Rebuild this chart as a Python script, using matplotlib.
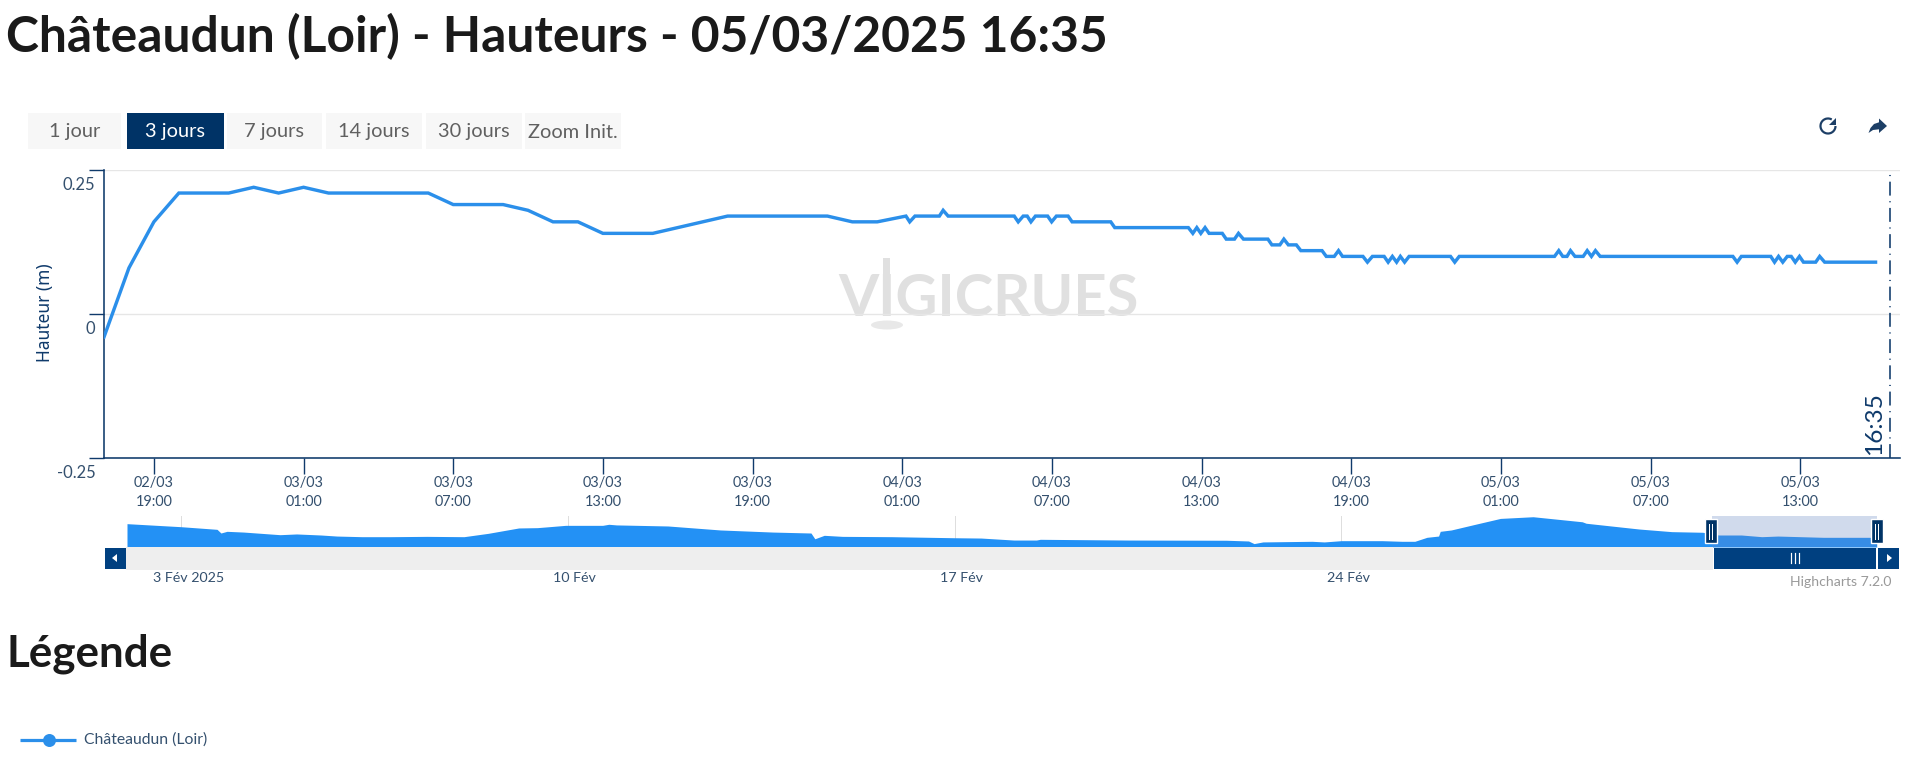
import matplotlib
matplotlib.use("Agg")
import matplotlib.pyplot as plt
from matplotlib.patches import Rectangle, Polygon, Ellipse, Arc
from matplotlib.lines import Line2D
from matplotlib.transforms import ScaledTranslation

# ---------- data ----------
hours_since_start = [0, 1, 2, 3, 5, 6, 7, 8, 9, 13, 14, 16, 17, 18, 19, 20, 22, 25, 29, 30, 31, 32.15, 32.30, 32.51,
    33.49, 33.64, 33.84, 36.49, 36.65, 36.85, 37.01, 37.16, 37.34, 37.83, 37.99, 38.18, 38.65, 38.81, 40.36, 40.52,
    43.47, 43.65, 43.81, 43.97, 44.14, 44.30, 44.83, 44.99, 45.32, 45.48, 45.68, 46.66, 46.82, 47.14, 47.30, 47.48,
    47.80, 47.98, 48.83, 49.0, 49.32, 49.49, 49.65, 50.47, 50.65, 50.85, 51.32, 51.48, 51.65, 51.82, 51.97, 52.14,
    52.32, 53.98, 54.15, 54.33, 58.15, 58.32, 58.48, 58.65, 58.79, 58.97, 59.3, 59.46, 59.63, 59.79, 59.98, 65.3,
    65.47, 65.64, 66.82, 66.97, 67.13, 67.30, 67.48, 67.64, 67.80, 67.97, 68.13, 68.62, 68.78, 68.98, 71.02]
heights = [-.04, .08, .16, .21, .21, .22, .21, .22, .21, .21, .19, .19, .18, .16, .16, .14, .14, .17, .17, .16, .16, .17, .16, .17,
    .17, .18, .17, .17, .16, .17, .17, .16, .17, .17, .16, .17, .17, .16, .16, .15,
    .15, .14, .15, .14, .15, .14, .14, .13, .13, .14, .13, .13, .12, .12, .13, .12,
    .12, .11, .11, .10, .10, .11, .10, .10, .09, .10, .10, .09, .10, .09, .10, .09,
    .10, .10, .09, .10, .10, .11, .10, .10, .11, .10, .10, .11, .10, .11, .10, .10,
    .09, .10, .10, .09, .10, .09, .10, .10, .09, .10, .09, .09, .10, .09, .09]
now_hour = 71.58
x_tick_hours = [2, 8, 14, 20, 26, 32, 38, 44, 50, 56, 62, 68]
x_tick_labels = ["02/03\n19:00", "03/03\n01:00", "03/03\n07:00", "03/03\n13:00", "03/03\n19:00", "04/03\n01:00",
                 "04/03\n07:00", "04/03\n13:00", "04/03\n19:00", "05/03\n01:00", "05/03\n07:00", "05/03\n13:00"]
y_ticks = [-0.25, 0, 0.25]
y_tick_labels = ["-0.25", "0", "0.25"]

nav_days = [-.98, 0, .65, .72, .83, 1.13, 1.79, 2.09, 2.53, 2.82, 3.27, 3.79, 4.45, 5.12, 5.56, 6.11, 6.45, 6.96, 7.63,
    7.74, 7.88, 8.81, 9.76, 10.71, 11.40, 11.47, 11.64, 11.97, 12.86, 14.0, 14.48, 15.07, 15.48, 15.55, 17.14, 18.92,
    19.32, 19.42, 19.58, 20.47, 20.69, 21.0, 21.74, 22.1, 22.33, 22.55, 22.76, 22.79, 22.99, 23.44, 23.88, 24.47,
    25.36, 25.43, 26.39, 26.98, 27.54, 27.83, 28.24, 28.61, 28.9, 29.72, 30.53, 30.69]
nav_values = [.75, .605, .48, .305, .385, .35, .225, .26, .21, .16, .13, .13, .145, .13, .29, .545, .56, .67, .67,
    .72, .69, .64, .45, .35, .305, .03, .195, .145, .13, .08, .065, -.03, -.03, .005, -.03, -.04,
    -.075, -.20, -.12, -.09, -.12, -.06, -.06, -.09, -.09, .10, .16, .385, .45, .73, 1.0, 1.08,
    .84, .77, .495, .37, .34, .21, .21, .13, .16, .10, .10, .10]
nav_tick_days = [0, 7, 14, 21]
nav_tick_labels = ["3 Fév 2025", "10 Fév", "17 Fév", "24 Fév"]

buttons = ["1 jour", "3 jours", "7 jours", "14 jours", "30 jours", "Zoom Init."]
title = "Châteaudun (Loir) - Hauteurs - 05/03/2025 16:35"
legend_title = "Légende"
series_name = "Châteaudun (Loir)"

# ---------- style ----------
W, H = 1920, 762
BLUE = "#2b8fea"
NAVBLUE = "#2391f5"
NAVY = "#0f3a6b"
DARK = "#003366"
TXT = "#34506e"
BODY = "Lato"
px = 0.72

fig = plt.figure(figsize=(W / 100, H / 100), dpi=100, facecolor="white")

def axes_px(x0, y0, x1, y1, **kw):
    return fig.add_axes([x0 / W, 1 - y1 / H, (x1 - x0) / W, (y1 - y0) / H], **kw)

def shift(dx, dy):
    return ScaledTranslation(dx / 100, -dy / 100, fig.dpi_scale_trans)

# ---------- watermark ----------
under = axes_px(0, 0, W, H, zorder=0)
under.set_xlim(0, W); under.set_ylim(H, 0); under.axis("off")
under.text(988, 300, "VIGICRUES", family=BODY, weight="bold", fontsize=58 * px, color="#e0e0e0",
           ha="center", va="center")
under.add_patch(Rectangle((883, 258), 7, 16, fc="#e0e0e0", ec="none"))
under.add_patch(Ellipse((887, 325), 32, 9, fc="#e8e8e8", ec="none"))

# ---------- main chart ----------
ax = axes_px(104, 170, 1900, 458, zorder=2)
ax.patch.set_alpha(0)
ax.set_xlim(0, 72)
ax.set_ylim(-0.25, 0.25)
ax.plot(hours_since_start, heights, color=BLUE, lw=3.4 * px, solid_joinstyle="miter", zorder=3)
ax.axvline(now_hour, color=NAVY, lw=1.6 * px, linestyle=(0, (8.7, 3.5, 0.7, 3.5)), zorder=4)
ax.text(now_hour, -0.25, "16:35", rotation=90, family=BODY, fontsize=24.5 * px, color=NAVY, ha="right", va="bottom",
        transform=ax.transData + shift(-4, -3))
ax.set_xticks(x_tick_hours, x_tick_labels)
ax.set_yticks(y_ticks, y_tick_labels)
ax.grid(axis="y", color="#e6e6e6", lw=1.4 * px, zorder=1)
ax.set_axisbelow(True)
for s in ("top", "right"):
    ax.spines[s].set_visible(False)
for s in ("left", "bottom"):
    ax.spines[s].set_color(NAVY)
    ax.spines[s].set_linewidth(1.6 * px)
ax.tick_params(axis="x", length=15.5 * px, width=1.4 * px, color=NAVY, pad=2.5 * px, labelsize=14.5 * px, labelcolor=TXT)
ax.tick_params(axis="y", length=15 * px, width=1.4 * px, color=NAVY, pad=0, labelsize=16.5 * px, labelcolor=TXT)
for lab in ax.get_xticklabels():
    lab.set_family(BODY); lab.set_linespacing(1.5)
for lab in ax.get_yticklabels():
    lab.set_family(BODY)
    lab.set_transform(lab.get_transform() + shift(6.5, 13))
ax.set_ylabel("Hauteur (m)", fontsize=17.4 * px, color=NAVY, family="Noto Sans")
ax.yaxis.set_label_coords(54 / W, 1 - 313 / H, transform=fig.transFigure)

# ---------- navigator ----------
nav = axes_px(127, 516, 1876.7, 547, zorder=3)
nav.set_xlim(-.98, 30.69)
nav.set_ylim(-.361, 1.115)
nav.fill_between(nav_days, nav_values, -.361, color=NAVBLUE, lw=0, zorder=2)
nav.patch.set_alpha(0)
nav.set_xticks(nav_tick_days, nav_tick_labels)
nav.set_yticks([])
nav.grid(axis="x", color="#dedede", lw=1 * px, zorder=1)
nav.set_axisbelow(True)
for s in nav.spines.values():
    s.set_visible(False)
nav.tick_params(axis="x", length=0, pad=25 * px, labelsize=14.2 * px, labelcolor=TXT)
for lab in nav.get_xticklabels():
    lab.set_family(BODY)
    lab.set_transform(lab.get_transform() + shift(7, 0))

# ---------- page chrome ----------
top = axes_px(0, 0, W, H, zorder=5)
top.set_xlim(0, W); top.set_ylim(H, 0); top.axis("off"); top.patch.set_alpha(0)

top.text(6, 52, title, family=BODY, weight="bold", fontsize=49.8 * px, color="#1a1a1a", ha="left", va="baseline")
top.text(6, 667, legend_title, family=BODY, weight="bold", fontsize=44 * px, color="#1a1a1a", ha="left", va="baseline")

btn_edges = [(27.8, 120.8), (127, 223.7), (226.5, 322.4), (325.7, 422.4), (425.7, 521.6), (524.9, 621.2)]
for i, (name, (a, b)) in enumerate(zip(buttons, btn_edges)):
    active = i == 1
    top.add_patch(Rectangle((a, 113), b - a, 36, fc=DARK if active else "#f7f7f7", ec="none"))
    top.text((a + b) / 2, 132, name, family=BODY, fontsize=20 * px, color="white" if active else "#606060",
             ha="center", va="center")

# refresh and share icons
ICON = "#1d3f66"
top.add_patch(Arc((1828, 126), 15, 15, theta1=0, theta2=300, color=ICON, lw=2.2 * px))
top.add_patch(Polygon([(1836, 118), (1836, 125), (1829, 125)], fc=ICON, ec="none"))
top.add_patch(Polygon([(1887, 126), (1879, 118.5), (1879, 122.3), (1874, 124), (1870.5, 128), (1868.5, 133),
                       (1873, 130), (1879, 129.3), (1879, 133)], fc=ICON, ec="none"))

# scrollbar
BTN = "#004080"
top.add_patch(Rectangle((126, 547), 1587, 23, fc="#eeeeee", ec="none"))
top.add_patch(Rectangle((104.5, 547.5), 21, 21, fc=BTN, ec="none"))
top.add_patch(Polygon([(112, 558), (117, 554), (117, 562)], fc="white", ec="none"))
top.add_patch(Rectangle((1713.5, 547.5), 162.5, 21, fc=BTN, ec="none"))
top.add_patch(Rectangle((1877.6, 547.5), 21.2, 21, fc=BTN, ec="none"))
top.add_patch(Polygon([(1892, 558), (1887, 554), (1887, 562)], fc="white", ec="none"))
for x in (1790.5, 1794.5, 1798.5):
    top.add_line(Line2D([x, x], [553, 563], color="white", lw=1.2 * px))

# navigator selection mask and handles
top.add_patch(Rectangle((1711.8, 516), 165, 31, fc=(102 / 255, 133 / 255, 194 / 255, 0.3), ec="none"))
for x0 in (1704.5, 1870.6):
    top.add_patch(Rectangle((x0, 519.3), 12, 24, fc=DARK, ec="white", lw=1.4 * px))
    for dx in (4.6, 7.4):
        top.add_line(Line2D([x0 + dx, x0 + dx], [524, 539], color="white", lw=1 * px))

top.text(1892, 582.5, "Highcharts 7.2.0", family=BODY, fontsize=14 * px, color="#999999", ha="right", va="center")

# legend
top.add_line(Line2D([20, 76], [739.5, 739.5], color=BLUE, lw=3.2 * px, solid_capstyle="butt"))
top.add_line(Line2D([49], [739.5], color=BLUE, marker="o", ms=13 * px, mew=0))
top.text(84.5, 739.5, series_name, family=BODY, fontsize=15.7 * px, color=TXT, ha="left", va="center")

fig.savefig("out.png", dpi=100, facecolor="white")
